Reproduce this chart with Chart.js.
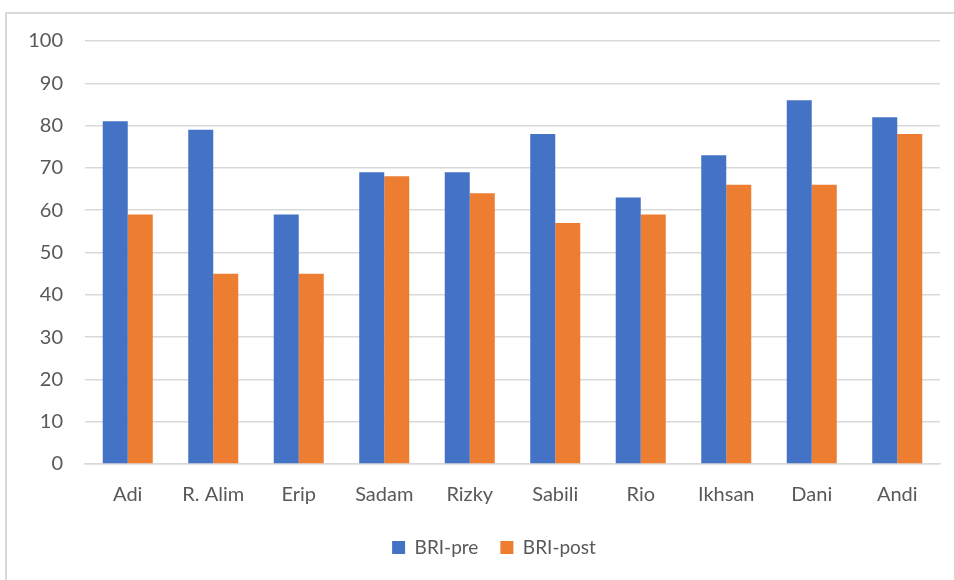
<!DOCTYPE html>
<html>
<head>
<meta charset="utf-8">
<script src="https://cdn.jsdelivr.net/npm/chart.js@4"></script>
<style>
  html, body { margin: 0; padding: 0; background: #fff; }
  body { width: 954px; height: 580px; position: relative; overflow: hidden; }
  #frame { position: absolute; left: 5px; top: 12px; width: 1000px; height: 620px;
           border: 2px solid #d9d9d9; box-sizing: border-box; }
  canvas { position: absolute; left: 0; top: 0; }
</style>
</head>
<body>
<div id="frame"></div>
<canvas id="c" width="954" height="580"></canvas>
<script>
const categories = ["Adi", "R. Alim", "Erip", "Sadam", "Rizky", "Sabili", "Rio", "Ikhsan", "Dani", "Andi"];
const briPre  = [81, 79, 59, 69, 69, 78, 63, 73, 86, 82];
const briPost = [59, 45, 45, 68, 64, 57, 59, 66, 66, 78];
const yTicks = [0, 10, 20, 30, 40, 50, 60, 70, 80, 90, 100];

const FONT = "Lato, 'Liberation Sans', sans-serif";
const TEXT = "#595959";
const GRID = "#d9d9d9";

// The chart frame runs past the right edge of the page, so the legend
// sits centred on the full frame rather than on the visible canvas.
const legendShift = {
  id: "legendShift",
  afterLayout(chart) {
    const lg = chart.legend;
    if (lg) { lg.left += 24; lg.right += 24; }
  }
};

new Chart(document.getElementById("c"), {
  type: "bar",
  data: {
    labels: categories,
    datasets: [
      { label: "BRI-pre",  data: briPre,  backgroundColor: "#4472C4" },
      { label: "BRI-post", data: briPost, backgroundColor: "#ED7D31" }
    ]
  },
  plugins: [legendShift],
  options: {
    responsive: false,
    animation: false,
    devicePixelRatio: 1,
    layout: { padding: { left: 0, right: 14, top: 41, bottom: 13 } },
    datasets: { bar: { categoryPercentage: 0.585, barPercentage: 1.0 } },
    plugins: {
      legend: {
        position: "bottom",
        labels: { boxWidth: 13, boxHeight: 13, color: TEXT, font: { family: FONT, size: 19 }, padding: 22 }
      },
      tooltip: { enabled: false }
    },
    scales: {
      x: {
        grid: { display: false },
        border: { color: GRID, width: 1.5 },
        ticks: { color: TEXT, font: { family: FONT, size: 20 }, padding: 11 },
        afterFit: (s) => { s.height = 52; }
      },
      y: {
        min: 0, max: 100,
        afterBuildTicks: (s) => { s.ticks = yTicks.map(v => ({ value: v })); },
        grid: { color: GRID, lineWidth: 1.5, drawTicks: false },
        border: { display: false },
        ticks: { color: TEXT, font: { family: FONT, size: 20 }, padding: 22 },
        afterFit: (s) => { s.width = 85; }
      }
    }
  }
});
</script>
</body>
</html>
